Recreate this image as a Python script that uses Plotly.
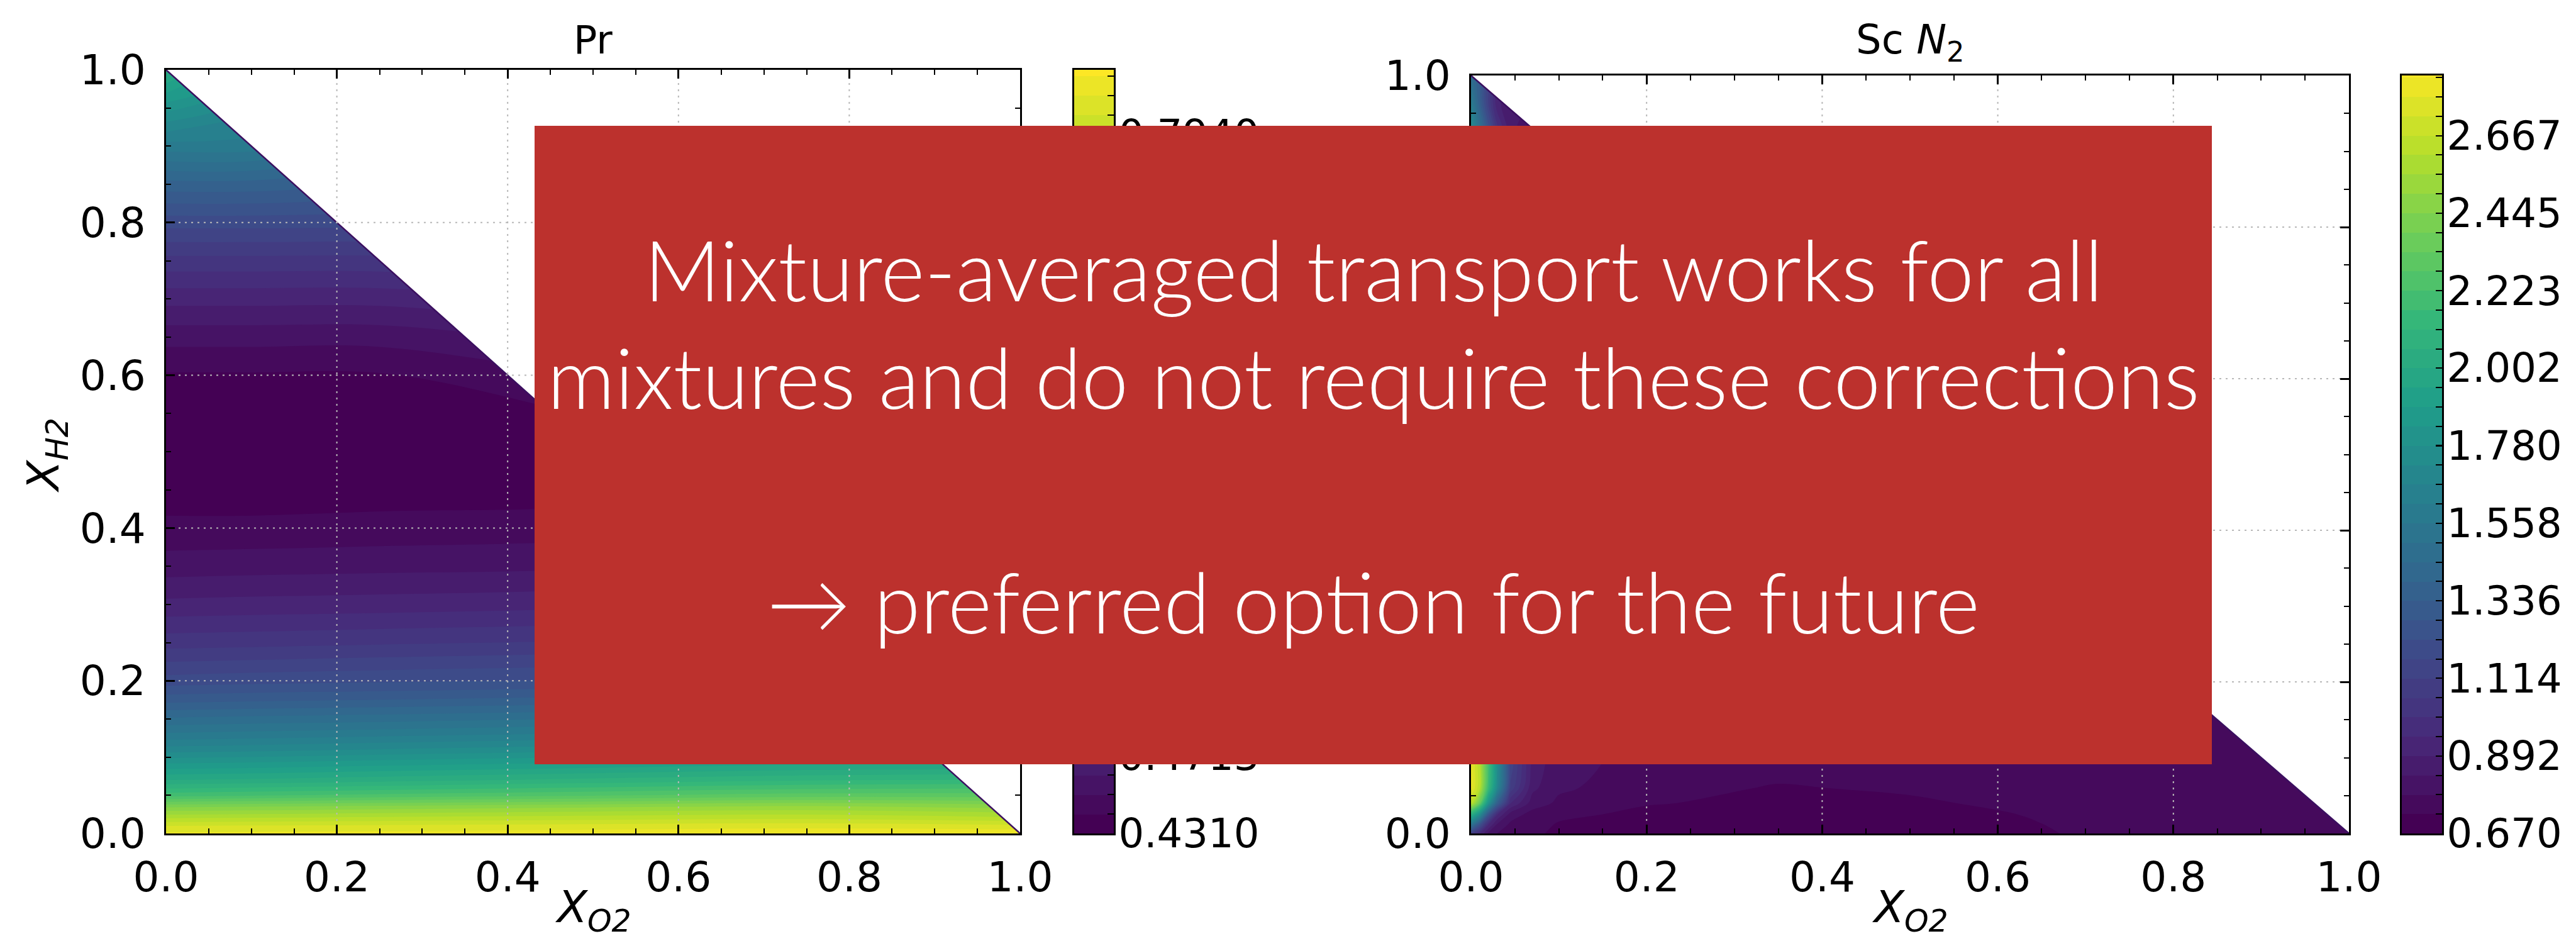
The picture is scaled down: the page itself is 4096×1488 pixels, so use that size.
import plotly.graph_objects as go

# ---------------- data ----------------
# Prandtl number field, X_O2 columns / X_H2 rows (None = outside the mixture triangle)
pr_x = [0.0, 0.1, 0.25, 0.5, 0.75, 1.0]
pr_y = [0.0, 0.01, 0.02, 0.035, 0.05, 0.07, 0.09, 0.11, 0.13, 0.15, 0.175, 0.2, 0.25,
        0.3, 0.35, 0.4, 0.45, 0.5, 0.55, 0.6, 0.65, 0.7, 0.75, 0.8, 0.85, 0.9, 0.94, 0.97, 1.0]
pr_z = [
    [0.816, 0.817, 0.818, 0.820, 0.822, 0.823],
    [0.804, 0.805, 0.806, 0.808, 0.810, None],
    [0.784, 0.785, 0.787, 0.790, 0.792, None],
    [0.752, 0.754, 0.757, 0.762, 0.766, None],
    [0.709, 0.712, 0.716, 0.722, 0.728, None],
    [0.673, 0.675, 0.679, 0.686, 0.692, None],
    [0.645, 0.647, 0.651, 0.657, 0.663, None],
    [0.617, 0.619, 0.623, 0.629, 0.634, None],
    [0.594, 0.596, 0.599, 0.604, 0.609, None],
    [0.574, 0.576, 0.578, 0.583, 0.587, None],
    [0.548, 0.550, 0.552, 0.556, 0.560, None],
    [0.526, 0.528, 0.530, 0.533, 0.536, None],
    [0.497, 0.498, 0.500, 0.503, 0.506, None],
    [0.474, 0.475, 0.476, 0.479, None, None],
    [0.456, 0.457, 0.458, 0.460, None, None],
    [0.444, 0.444, 0.445, 0.447, None, None],
    [0.435, 0.435, 0.436, 0.437, None, None],
    [0.431, 0.431, 0.432, 0.433, None, None],
    [0.433, 0.433, 0.433, None, None, None],
    [0.440, 0.440, 0.440, None, None, None],
    [0.455, 0.455, 0.455, None, None, None],
    [0.475, 0.475, 0.475, None, None, None],
    [0.498, 0.498, 0.498, None, None, None],
    [0.526, 0.526, None, None, None, None],
    [0.558, 0.558, None, None, None, None],
    [0.598, 0.598, None, None, None, None],
    [0.629, None, None, None, None, None],
    [0.653, None, None, None, None, None],
    [0.677, None, None, None, None, None],
]

# Schmidt number of N2
sc_x = [0.0, 0.01, 0.02, 0.03, 0.045, 0.07, 0.1, 0.2, 0.35, 0.5, 0.65, 0.8, 1.0]
sc_y = [0.0, 0.012, 0.025, 0.04, 0.06, 0.09, 0.15, 0.3, 0.5, 0.7, 0.85, 0.93, 0.965, 1.0]
sc_z = [
    [1.10, 0.95, 0.82, 0.78, 0.76, 0.74, 0.71, 0.70, 0.69, 0.70, 0.72, 0.76, 0.77],
    [1.55, 1.25, 0.95, 0.83, 0.77, 0.75, 0.72, 0.70, 0.695, 0.70, 0.725, 0.76, None],
    [2.05, 1.75, 1.25, 0.95, 0.81, 0.76, 0.74, 0.71, 0.70, 0.705, 0.73, 0.765, None],
    [2.65, 2.35, 1.80, 1.35, 0.95, 0.81, 0.77, 0.73, 0.71, 0.715, 0.745, 0.765, None],
    [2.80, 2.62, 2.15, 1.70, 1.10, 0.85, 0.79, 0.75, 0.72, 0.735, 0.76, 0.77, None],
    [2.80, 2.62, 2.20, 1.75, 1.15, 0.87, 0.80, 0.76, 0.75, 0.755, 0.765, 0.77, None],
    [2.75, 2.55, 2.15, 1.70, 1.15, 0.88, 0.81, 0.77, 0.76, 0.765, 0.77, 0.77, None],
    [2.55, 2.35, 2.00, 1.60, 1.10, 0.87, 0.81, 0.77, 0.765, 0.77, 0.77, None, None],
    [2.30, 2.10, 1.80, 1.45, 1.05, 0.86, 0.80, 0.77, 0.77, 0.77, None, None, None],
    [2.05, 1.85, 1.60, 1.30, 1.00, 0.85, 0.80, 0.775, None, None, None, None, None],
    [1.88, 1.65, 1.40, 1.15, 0.92, 0.82, 0.79, None, None, None, None, None, None],
    [1.75, 1.50, 1.25, 1.02, 0.85, 0.80, None, None, None, None, None, None, None],
    [1.60, 1.35, 1.10, 0.90, None, None, None, None, None, None, None, None, None],
    [1.47, None, None, None, None, None, None, None, None, None, None, None, None],
]

axis_ticks = [0.0, 0.2, 0.4, 0.6, 0.8, 1.0]
axis_ticktext = ["0.0", "0.2", "0.4", "0.6", "0.8", "1.0"]

pr_cbar_labels = ["0.4310", "0.4713", "0.5117", "0.5520", "0.5923",
                  "0.6327", "0.6730", "0.7133", "0.7537", "0.7940"]
pr_cbar_top = 0.8276
sc_cbar_labels = ["0.670", "0.892", "1.114", "1.336", "1.558",
                  "1.780", "2.002", "2.223", "2.445", "2.667"]
sc_cbar_top = 2.839

titles = ["Pr", "Sc <i>N</i><sub>2</sub>"]
x_title = "<i>X</i><sub><i>O2</i></sub>"
y_title = "<i>X</i><sub><i>H2</i></sub>"
box_lines = ["Mixture-averaged transport works for all",
             "mixtures and do not require these corrections",
             "\u2192 preferred option for the future"]

# ---------------- layout geometry (pixels in the 4096x1488 page) ----------------
W, H = 4096, 1488
FONT = "DejaVu Sans"


def fx(p):
    return p / W


def fy(p):
    return 1 - p / H


L_AX = ((256, 1614), (103, 1317))
R_AX = ((2331, 3727), (112, 1317))
L_CB = ((1700, 1763), (103, 1317))
R_CB = ((3811, 3875), (112, 1317))


def xdom(g):
    return [fx(g[0][0]), fx(g[0][1])]


def ydom(g):
    return [fy(g[1][1]), fy(g[1][0])]


def levels_info(labels, top):
    vals = [float(v) for v in labels]
    step = (vals[-1] - vals[0]) / (len(vals) - 1) / 4
    vmin = vals[0]
    n = int((top - vmin) / step)
    return vmin, step, n


fig = go.Figure()


def add_field(x, y, z, labels, top, xa, ya):
    vmin, step, n = levels_info(labels, top)
    fig.add_trace(go.Contour(
        x=x, y=y, z=z, xaxis=xa, yaxis=ya, colorscale="Viridis",
        autocontour=False, connectgaps=True,
        contours=dict(start=vmin + step, end=vmin + n * step, size=step,
                      coloring="fill", showlines=False),
        line=dict(width=0), showscale=False, hoverinfo="skip"))
    # blank region outside the composition triangle
    x0, x1, y0, y1 = x[0], x[-1], y[0], y[-1]
    fig.add_trace(go.Scatter(
        x=[x0, x1, x1, x0], y=[y1, y0, y1, y1], xaxis=xa, yaxis=ya,
        mode="lines", fill="toself", fillcolor="white",
        line=dict(width=0, color="white"), hoverinfo="skip", showlegend=False))
    fig.add_trace(go.Scatter(
        x=[x0, x1], y=[y1, y0], xaxis=xa, yaxis=ya, mode="lines",
        line=dict(width=2.5, color="#3b0f60"), hoverinfo="skip", showlegend=False))
    # dotted grid drawn over the field
    gx, gy = [], []
    for v in axis_ticks[1:-1]:
        gx += [v, v, None]
        gy += [axis_ticks[0], axis_ticks[-1], None]
        gx += [axis_ticks[0], axis_ticks[-1], None]
        gy += [v, v, None]
    fig.add_trace(go.Scatter(
        x=gx, y=gy, xaxis=xa, yaxis=ya, mode="lines",
        line=dict(width=2, color="#b8b8b8", dash="3px,7px"),
        hoverinfo="skip", showlegend=False))


def add_cbar(labels, top, xa, ya):
    vmin, step, n = levels_info(labels, top)
    edges = [vmin + k * step for k in range(n + 2)]
    centers = [[vmin + (k + 0.5) * step] for k in range(n + 1)]
    fig.add_trace(go.Heatmap(
        x=[0, 1], y=edges, z=centers, xaxis=xa, yaxis=ya, colorscale="Viridis",
        zmin=vmin + 0.5 * step, zmax=vmin + (n + 0.5) * step,
        showscale=False, hoverinfo="skip"))


add_field(pr_x, pr_y, pr_z, pr_cbar_labels, pr_cbar_top, "x", "y")
add_field(sc_x, sc_y, sc_z, sc_cbar_labels, sc_cbar_top, "x2", "y2")
add_cbar(pr_cbar_labels, pr_cbar_top, "x3", "y3")
add_cbar(sc_cbar_labels, sc_cbar_top, "x4", "y4")

tickfont = dict(family=FONT, size=66, color="black")
cbfont = dict(family=FONT, size=64, color="black")


def main_axis(domain, anchor, standoff):
    return dict(
        domain=domain, anchor=anchor, range=[axis_ticks[0], axis_ticks[-1]],
        automargin=False,
        tickmode="array", tickvals=axis_ticks, ticktext=axis_ticktext,
        ticks="inside", ticklen=14, tickwidth=2.5, tickcolor="black",
        showline=True, linecolor="black", linewidth=3, mirror="allticks",
        showgrid=False, zeroline=False, tickfont=tickfont,
        ticklabelstandoff=standoff,
        minor=dict(ticks="inside", ticklen=8, tickwidth=2, tickcolor="black",
                   tick0=0, dtick=0.05, showgrid=False))


def cbar_axes(labels, top, xdomain, ydomain, xanchor, yanchor):
    vmin, step, n = levels_info(labels, top)
    tv = [float(v) for v in labels]
    xa = dict(domain=xdomain, anchor=yanchor, range=[0, 1], showticklabels=False,
              automargin=False,
              ticks="", showline=True, linecolor="black", linewidth=2.5, mirror=True,
              showgrid=False, zeroline=False, fixedrange=True)
    ya = dict(domain=ydomain, anchor=xanchor, side="right", range=[vmin, top],
              automargin=False,
              tickmode="array", tickvals=tv, ticktext=labels, ticks="inside",
              ticklen=10, tickwidth=2, tickcolor="black", showline=True,
              linecolor="black", linewidth=2.5, mirror=True, showgrid=False,
              zeroline=False, tickfont=cbfont, ticklabelstandoff=-8,
              minor=dict(ticks="inside", ticklen=10, tickwidth=2, tickcolor="black",
                         tick0=vmin, dtick=step, showgrid=False))
    return xa, ya


x3, y3 = cbar_axes(pr_cbar_labels, pr_cbar_top, xdom(L_CB), ydom(L_CB), "x3", "y3")
x4, y4 = cbar_axes(sc_cbar_labels, sc_cbar_top, xdom(R_CB), ydom(R_CB), "x4", "y4")

annotations = [
    dict(text=titles[0], x=fx(935), y=fy(55), xref="paper", yref="paper",
         showarrow=False, xanchor="center", yanchor="middle",
         font=dict(family=FONT, size=62, color="black")),
    dict(text=titles[1], x=fx(3029), y=fy(60), xref="paper", yref="paper",
         showarrow=False, xanchor="center", yanchor="middle",
         font=dict(family=FONT, size=64, color="black")),
    dict(text=x_title, x=fx(935), y=fy(1487), xref="paper", yref="paper",
         showarrow=False, xanchor="center", yanchor="bottom",
         font=dict(family=FONT, size=70, color="black")),
    dict(text=x_title, x=fx(3029), y=fy(1487), xref="paper", yref="paper",
         showarrow=False, xanchor="center", yanchor="bottom",
         font=dict(family=FONT, size=70, color="black")),
    dict(text=y_title, x=fx(66), y=fy(716), xref="paper", yref="paper",
         showarrow=False, xanchor="center", yanchor="middle", textangle=-90,
         font=dict(family=FONT, size=70, color="black")),
]

BOX = (842, 192, 3509, 1207)
box_cx = fx((BOX[0] + BOX[2]) / 2)
for line, ypx in zip(box_lines, [419, 590, 947]):
    annotations.append(dict(
        text=line, x=box_cx, y=fy(ypx), xref="paper", yref="paper",
        showarrow=False, xanchor="center", yanchor="middle",
        font=dict(family="Lato", size=134, color="white", weight=300)))

fig.update_layout(
    template="none",
    width=W, height=H, margin=dict(l=0, r=0, t=0, b=0, autoexpand=False),
    paper_bgcolor="white", plot_bgcolor="white", showlegend=False,
    xaxis=main_axis(xdom(L_AX), "y", 10),
    yaxis=main_axis(ydom(L_AX), "x", 16),
    xaxis2=main_axis(xdom(R_AX), "y2", 10),
    yaxis2=main_axis(ydom(R_AX), "x2", 16),
    xaxis3=x3, yaxis3=y3, xaxis4=x4, yaxis4=y4,
    shapes=[dict(type="rect", xref="paper", yref="paper",
                 x0=fx(BOX[0]), x1=fx(BOX[2]), y0=fy(BOX[3]), y1=fy(BOX[1]),
                 fillcolor="#bc312d", line=dict(width=0), layer="above")],
    annotations=annotations,
)

fig.write_html("out.html")
